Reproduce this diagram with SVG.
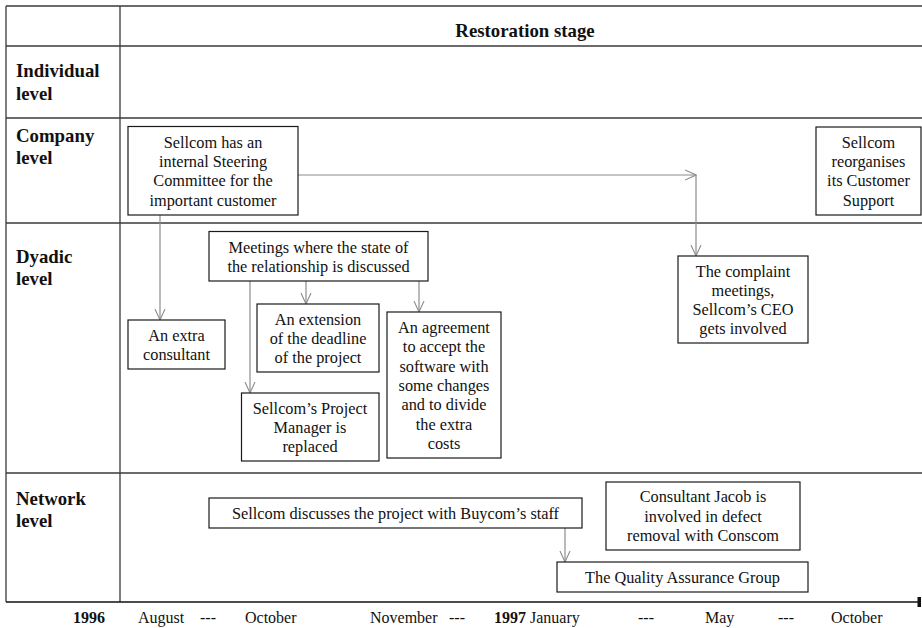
<svg xmlns="http://www.w3.org/2000/svg" width="922" height="628" viewBox="0 0 922 628" font-family="Liberation Serif, Times New Roman, serif">
  <style>
    .grid { stroke: #3a3a3a; stroke-width: 1.3; fill: none; }
    .box { fill: #fff; stroke: #1a1a1a; stroke-width: 1.2; }
    .t { font-size: 16.3px; fill: #111; text-anchor: middle; }
    .lab { font-size: 18.8px; font-weight: bold; fill: #111; }
    .ax { font-size: 16px; fill: #111; }
    .conn { stroke: #8c8c8c; stroke-width: 1.2; fill: none; marker-end: url(#open); }
  </style>
  <defs>
    <marker id="open" viewBox="0 0 12 12" refX="11" refY="6" markerWidth="12" markerHeight="12" markerUnits="userSpaceOnUse" orient="auto">
      <path d="M0,1 L11,6 L0,11" fill="none" stroke="#8c8c8c" stroke-width="1.1"/>
    </marker>
  </defs>

  <rect width="922" height="628" fill="#fff"/>

  <!-- table frame -->
  <g id="table">
    <line class="grid" x1="6" y1="6" x2="922" y2="6"/>
    <line class="grid" x1="6" y1="46" x2="922" y2="46"/>
    <line class="grid" x1="6" y1="118" x2="922" y2="118"/>
    <line class="grid" x1="6" y1="223" x2="922" y2="223"/>
    <line class="grid" x1="6" y1="473" x2="922" y2="473"/>
    <line class="grid" x1="6" y1="6" x2="6" y2="602"/>
    <line class="grid" x1="120" y1="6" x2="120" y2="602"/>
    <line x1="6" y1="602" x2="918" y2="602" stroke="#111" stroke-width="1.6"/>
    <rect x="917.5" y="597" width="3.5" height="10" fill="#111"/>
    <text class="lab" x="525" y="37" text-anchor="middle">Restoration stage</text>
    <text class="lab" x="16" y="77">Individual</text>
    <text class="lab" x="16" y="100">level</text>
    <text class="lab" x="16" y="142">Company</text>
    <text class="lab" x="16" y="164">level</text>
    <text class="lab" x="16" y="263">Dyadic</text>
    <text class="lab" x="16" y="285">level</text>
    <text class="lab" x="16" y="505">Network</text>
    <text class="lab" x="16" y="527">level</text>
  </g>

  <!-- time axis -->
  <g id="axis">
    <text class="ax" x="73" y="623" font-weight="bold">1996</text>
    <text class="ax" x="138" y="623">August</text>
    <text class="ax" x="200" y="623">---</text>
    <text class="ax" x="245" y="623">October</text>
    <text class="ax" x="370" y="623">November</text>
    <text class="ax" x="449" y="623">---</text>
    <text class="ax" x="494" y="623"><tspan font-weight="bold">1997</tspan> January</text>
    <text class="ax" x="638" y="623">---</text>
    <text class="ax" x="705" y="623">May</text>
    <text class="ax" x="778" y="623">---</text>
    <text class="ax" x="831" y="623">October</text>
  </g>

  <!-- connectors -->
  <g id="connectors">
    <line class="conn" x1="298" y1="175" x2="696" y2="175"/>
    <line class="conn" x1="696" y1="175" x2="696" y2="256"/>
    <line class="conn" x1="160" y1="215" x2="160" y2="320"/>
    <line class="conn" x1="250" y1="281" x2="250" y2="393"/>
    <line class="conn" x1="306" y1="281" x2="306" y2="304"/>
    <line class="conn" x1="419" y1="281" x2="419" y2="312"/>
    <line class="conn" x1="565" y1="528" x2="565" y2="562"/>
  </g>

  <g id="steering">
    <rect class="box" x="128" y="126.5" width="170" height="88.5"/>
    <text class="t" x="213" y="148">Sellcom has an</text>
    <text class="t" x="213" y="167">internal Steering</text>
    <text class="t" x="213" y="186">Committee for the</text>
    <text class="t" x="213" y="206">important customer</text>
  </g>

  <g id="reorganise">
    <rect class="box" x="816" y="127" width="105" height="88"/>
    <text class="t" x="868.5" y="148">Sellcom</text>
    <text class="t" x="868.5" y="167">reorganises</text>
    <text class="t" x="868.5" y="186">its Customer</text>
    <text class="t" x="868.5" y="206">Support</text>
  </g>

  <g id="complaint">
    <rect class="box" x="678" y="256" width="130" height="87"/>
    <text class="t" x="743" y="277">The complaint</text>
    <text class="t" x="743" y="296">meetings,</text>
    <text class="t" x="743" y="315">Sellcom’s CEO</text>
    <text class="t" x="743" y="334">gets involved</text>
  </g>

  <g id="meetings">
    <rect class="box" x="209" y="231.5" width="219" height="49.5"/>
    <text class="t" x="318.5" y="253">Meetings where the state of</text>
    <text class="t" x="318.5" y="272">the relationship is discussed</text>
  </g>

  <g id="consultant">
    <rect class="box" x="128" y="320" width="97" height="49"/>
    <text class="t" x="176.5" y="341">An extra</text>
    <text class="t" x="176.5" y="360">consultant</text>
  </g>

  <g id="extension">
    <rect class="box" x="257" y="304" width="122" height="68"/>
    <text class="t" x="318" y="325">An extension</text>
    <text class="t" x="318" y="344">of the deadline</text>
    <text class="t" x="318" y="363">of the project</text>
  </g>

  <g id="manager">
    <rect class="box" x="241.5" y="393" width="137.5" height="68"/>
    <text class="t" x="310" y="414">Sellcom’s Project</text>
    <text class="t" x="310" y="433">Manager is</text>
    <text class="t" x="310" y="452">replaced</text>
  </g>

  <g id="agreement">
    <rect class="box" x="387" y="312" width="114" height="146"/>
    <text class="t" x="444" y="333">An agreement</text>
    <text class="t" x="444" y="352">to accept the</text>
    <text class="t" x="444" y="372">software with</text>
    <text class="t" x="444" y="391">some changes</text>
    <text class="t" x="444" y="410">and to divide</text>
    <text class="t" x="444" y="430">the extra</text>
    <text class="t" x="444" y="449">costs</text>
  </g>

  <g id="buycom">
    <rect class="box" x="209" y="498" width="373" height="30"/>
    <text class="t" x="395.5" y="519">Sellcom discusses the project with Buycom’s staff</text>
  </g>

  <g id="jacob">
    <rect class="box" x="606" y="482" width="194" height="68"/>
    <text class="t" x="703" y="502">Consultant Jacob is</text>
    <text class="t" x="703" y="522">involved in defect</text>
    <text class="t" x="703" y="541">removal with Conscom</text>
  </g>

  <g id="quality">
    <rect class="box" x="557" y="562" width="251" height="30"/>
    <text class="t" x="682.5" y="583">The Quality Assurance Group</text>
  </g>
</svg>
